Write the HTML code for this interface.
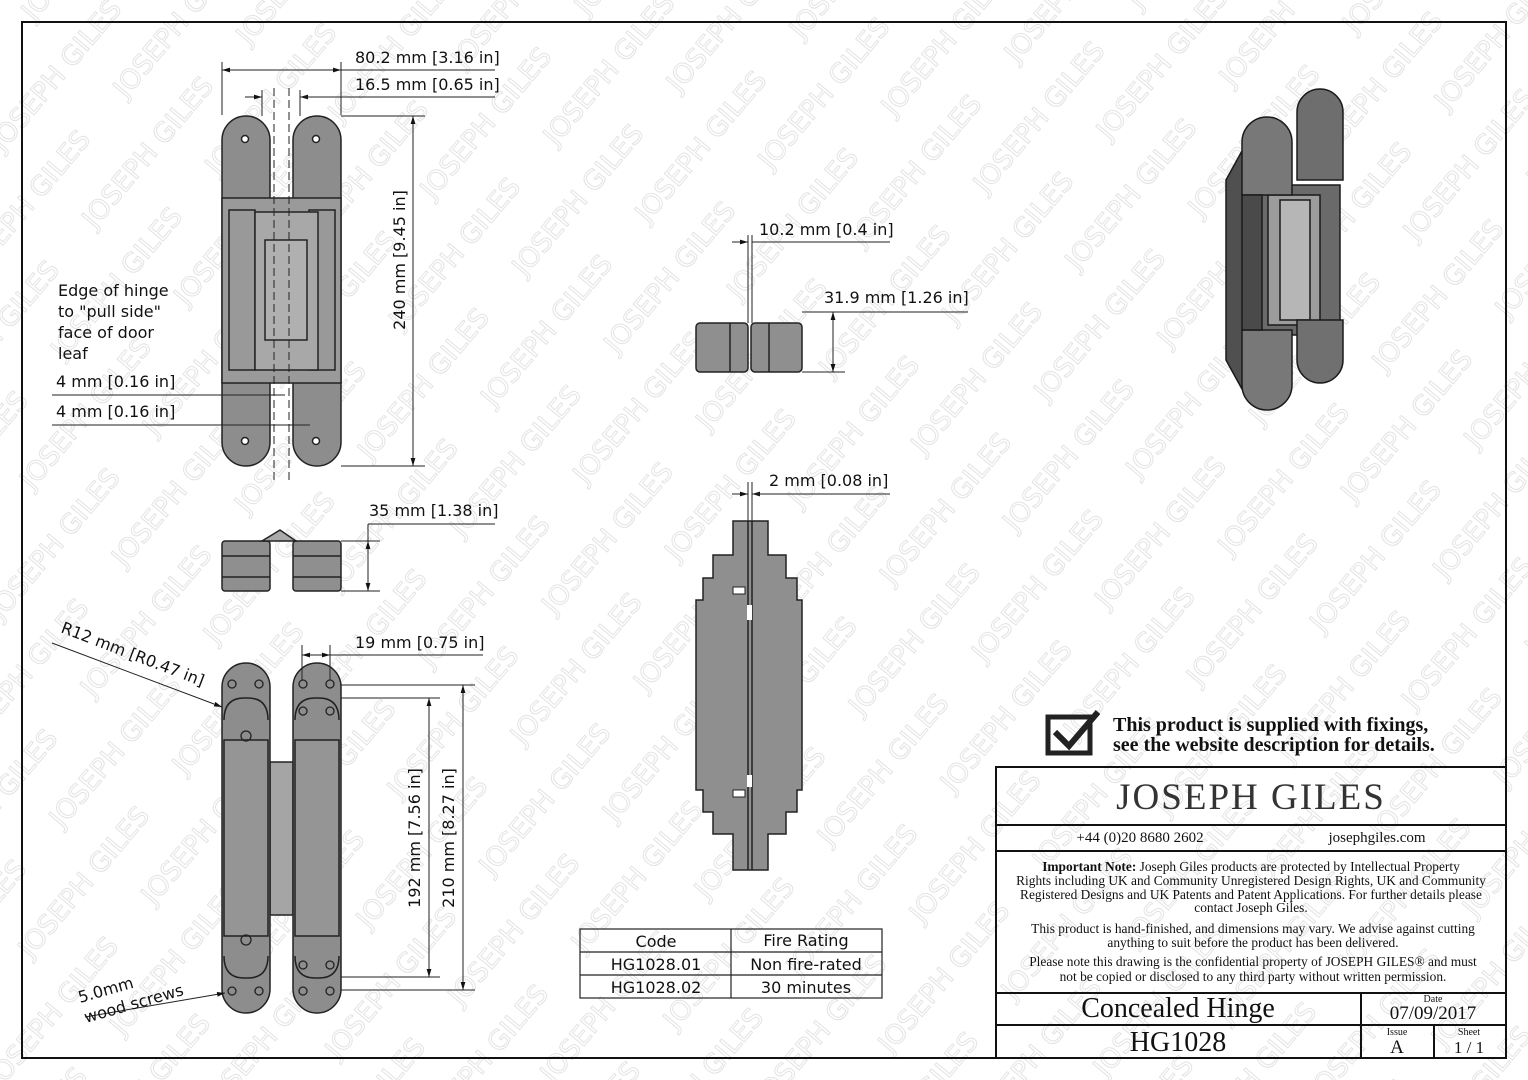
<!DOCTYPE html>
<html><head><meta charset="utf-8"><style>
html,body{margin:0;padding:0;background:#fff}
svg{display:block}
text{font-family:"DejaVu Sans","Liberation Sans",sans-serif;fill:#111}
.s{font-family:"Liberation Serif",serif}
text.w{fill:none;stroke:#dcdcdc;stroke-width:0.8px;font-size:27px}
</style></head><body>
<svg width="1528" height="1080" viewBox="0 0 1528 1080" xmlns="http://www.w3.org/2000/svg">
<defs>
<pattern id="wm" width="240" height="120" patternUnits="userSpaceOnUse" patternTransform="rotate(-50)">
<text class="w" x="5" y="40">JOSEPH GILES</text>
<text class="w" x="125" y="100">JOSEPH GILES</text>
<text class="w" x="-115" y="100">JOSEPH GILES</text>
</pattern>
<marker id="a" viewBox="0 0 10 10" refX="10" refY="5" markerWidth="8" markerHeight="8" orient="auto-start-reverse"><path d="M0,2 L10,5 L0,8 z" fill="#111"/></marker>
</defs>
<rect width="1528" height="1080" fill="#fff"/>
<rect width="1528" height="1080" fill="url(#wm)"/>
<rect x="22" y="22" width="1484" height="1036" fill="none" stroke="#111" stroke-width="2"/>

<g stroke="#222" stroke-width="1.5" fill="#8d8d8d">
<path d="M222,140 a24,24 0 0 1 48,0 V442 a24,24 0 0 1 -48,0 z"/>
<path d="M293,140 a24,24 0 0 1 48,0 V442 a24,24 0 0 1 -48,0 z"/>
<rect x="222" y="198" width="119" height="185" fill="#9a9a9a"/>
<rect x="229" y="210" width="26" height="160" fill="#999"/>
<rect x="309" y="210" width="26" height="160" fill="#999"/>
<rect x="255" y="212" width="63" height="158" fill="#a8a8a8"/>
<rect x="265" y="240" width="42" height="100" fill="#b0b0b0"/>
<circle cx="245" cy="139" r="3.5" fill="#fff"/><circle cx="316" cy="139" r="3.5" fill="#fff"/>
<circle cx="245" cy="441" r="3.5" fill="#fff"/><circle cx="316" cy="441" r="3.5" fill="#fff"/>
</g>
<g stroke="#222" stroke-width="1" stroke-dasharray="8,4" fill="none">
<line x1="274" y1="88" x2="274" y2="482"/><line x1="289" y1="88" x2="289" y2="482"/>
</g>
<g stroke="#222" stroke-width="1" fill="none">
<line x1="222" y1="62" x2="222" y2="115"/><line x1="341" y1="62" x2="341" y2="115"/>
<line x1="222" y1="70" x2="341" y2="70" marker-start="url(#a)" marker-end="url(#a)"/>
<line x1="341" y1="70" x2="495" y2="70"/>
<line x1="262" y1="90" x2="262" y2="116"/><line x1="300" y1="90" x2="300" y2="116"/>
<line x1="245" y1="97" x2="262" y2="97" marker-end="url(#a)"/><line x1="318" y1="97" x2="300" y2="97" marker-end="url(#a)"/>
<line x1="300" y1="97" x2="495" y2="97"/>
<line x1="341" y1="116" x2="425" y2="116"/><line x1="341" y1="466" x2="425" y2="466"/>
<line x1="413" y1="116" x2="413" y2="466" marker-start="url(#a)" marker-end="url(#a)"/>
<line x1="52" y1="395" x2="285" y2="395"/>
<line x1="52" y1="425" x2="310" y2="425"/>
</g>
<text x="355" y="63" font-size="16">80.2 mm [3.16 in]</text>
<text x="355" y="90" font-size="16">16.5 mm [0.65 in]</text>
<text transform="translate(405,260) rotate(-90)" font-size="16" text-anchor="middle">240 mm [9.45 in]</text>
<text x="58" y="296" font-size="16">Edge of hinge</text>
<text x="58" y="317" font-size="16">to "pull side"</text>
<text x="58" y="338" font-size="16">face of door</text>
<text x="58" y="359" font-size="16">leaf</text>
<text x="56" y="387" font-size="16">4 mm [0.16 in]</text>
<text x="56" y="417" font-size="16">4 mm [0.16 in]</text>

<g stroke="#222" stroke-width="1.5" fill="#8f8f8f">
<rect x="222" y="541" width="48" height="50" rx="3"/>
<rect x="293" y="541" width="48" height="50" rx="3"/>
<path d="M262,541 L280,530 L296,541 z" fill="#aaa"/>
<line x1="222" y1="556" x2="270" y2="556"/><line x1="293" y1="556" x2="341" y2="556"/>
<line x1="222" y1="577" x2="270" y2="577"/><line x1="293" y1="577" x2="341" y2="577"/>
</g>
<g stroke="#222" stroke-width="1" fill="none">
<line x1="341" y1="541" x2="380" y2="541"/><line x1="341" y1="591" x2="380" y2="591"/>
<line x1="368" y1="524" x2="495" y2="524"/>
<line x1="368" y1="524" x2="368" y2="591"/>
<line x1="368" y1="541" x2="368" y2="591" marker-start="url(#a)" marker-end="url(#a)"/>
</g>
<text x="369" y="516" font-size="16">35 mm [1.38 in]</text>

<g stroke="#222" stroke-width="1.5" fill="#8d8d8d">
<rect x="270" y="762" width="23" height="153" fill="#a5a5a5"/>
<path d="M222,687 a24,24 0 0 1 48,0 V989 a24,24 0 0 1 -48,0 z"/>
<path d="M293,687 a24,24 0 0 1 48,0 V989 a24,24 0 0 1 -48,0 z"/>
<rect x="224" y="740" width="44" height="196" fill="#959595"/>
<rect x="295" y="740" width="44" height="196" fill="#959595"/>
<path d="M224,720 q0,-22 20,-22 h4 q20,0 20,22" fill="none"/>
<path d="M295,720 q0,-22 20,-22 h4 q20,0 20,22" fill="none"/>
<path d="M224,956 q0,22 20,22 h4 q20,0 20,-22" fill="none"/>
<path d="M295,956 q0,22 20,22 h4 q20,0 20,-22" fill="none"/>
</g>
<g fill="none" stroke="#222" stroke-width="1.3">
<circle cx="232" cy="684" r="4"/><circle cx="259" cy="684" r="4"/><circle cx="303" cy="684" r="4"/><circle cx="330" cy="684" r="4"/>
<circle cx="303" cy="711" r="4"/><circle cx="330" cy="711" r="4"/><circle cx="246" cy="736" r="5"/>
<circle cx="246" cy="940" r="5"/><circle cx="303" cy="965" r="4"/><circle cx="330" cy="965" r="4"/>
<circle cx="232" cy="991" r="4"/><circle cx="259" cy="991" r="4"/><circle cx="303" cy="991" r="4"/><circle cx="330" cy="991" r="4"/>
</g>
<g stroke="#222" stroke-width="1" fill="none">
<line x1="302" y1="645" x2="302" y2="680"/><line x1="330" y1="645" x2="330" y2="680"/>
<line x1="302" y1="655" x2="330" y2="655" marker-start="url(#a)" marker-end="url(#a)"/>
<line x1="330" y1="655" x2="483" y2="655"/>
<line x1="341" y1="685" x2="475" y2="685"/><line x1="341" y1="698" x2="440" y2="698"/>
<line x1="341" y1="977" x2="440" y2="977"/><line x1="341" y1="990" x2="475" y2="990"/>
<line x1="429" y1="698" x2="429" y2="977" marker-start="url(#a)" marker-end="url(#a)"/>
<line x1="463" y1="685" x2="463" y2="990" marker-start="url(#a)" marker-end="url(#a)"/>
<line x1="52" y1="643" x2="222" y2="707" marker-end="url(#a)"/>
<line x1="85" y1="1017" x2="225" y2="993" marker-end="url(#a)"/>
</g>
<text x="355" y="648" font-size="16">19 mm [0.75 in]</text>
<text transform="translate(420,838) rotate(-90)" font-size="16" text-anchor="middle">192 mm [7.56 in]</text>
<text transform="translate(454,838) rotate(-90)" font-size="16" text-anchor="middle">210 mm [8.27 in]</text>
<text transform="translate(60,632) rotate(21)" font-size="16">R12 mm [R0.47 in]</text>
<text transform="translate(80,1003) rotate(-16)" font-size="16">5.0mm</text>
<text transform="translate(86,1023) rotate(-16)" font-size="16">wood screws</text>

<g stroke="#222" stroke-width="1.5" fill="#8f8f8f">
<rect x="696" y="323" width="52" height="49" rx="4"/>
<rect x="751" y="323" width="51" height="49" rx="4"/>
<line x1="730" y1="323" x2="730" y2="372"/><line x1="769" y1="323" x2="769" y2="372"/>
</g>
<g stroke="#222" stroke-width="1" fill="none">
<line x1="748" y1="235" x2="748" y2="323"/><line x1="752" y1="235" x2="752" y2="323"/>
<line x1="732" y1="242" x2="748" y2="242" marker-end="url(#a)"/>
<line x1="752" y1="242" x2="890" y2="242"/>
<line x1="802" y1="312" x2="968" y2="312"/><line x1="802" y1="372" x2="845" y2="372"/>
<line x1="833" y1="312" x2="833" y2="372" marker-start="url(#a)" marker-end="url(#a)"/>
</g>
<text x="759" y="235" font-size="16">10.2 mm [0.4 in]</text>
<text x="824" y="303" font-size="16">31.9 mm [1.26 in]</text>

<path d="M733,521 H768 V555 H786 V578 H797 V600 H802 V790 H797 V812 H786 V834 H768 V870 H733 V834 H713 V812 H703 V790 H696 V600 H703 V578 H713 V555 H733 Z" fill="#8f8f8f" stroke="#222" stroke-width="1.5"/>
<line x1="748" y1="521" x2="748" y2="870" stroke="#222" stroke-width="1.5"/>
<line x1="752" y1="521" x2="752" y2="870" stroke="#222" stroke-width="1.5"/>
<rect x="733" y="587" width="12" height="7" fill="#fff" stroke="#222"/>
<rect x="733" y="790" width="12" height="7" fill="#fff" stroke="#222"/>
<rect x="747" y="605" width="5" height="15" fill="#fff"/>
<rect x="747" y="775" width="5" height="12" fill="#fff"/>
<g stroke="#222" stroke-width="1" fill="none">
<line x1="748" y1="482" x2="748" y2="521"/><line x1="752" y1="482" x2="752" y2="521"/>
<line x1="732" y1="494" x2="748" y2="494" marker-end="url(#a)"/>
<line x1="768" y1="494" x2="752" y2="494" marker-end="url(#a)"/>
<line x1="752" y1="494" x2="890" y2="494"/>
</g>
<text x="769" y="486" font-size="16">2 mm [0.08 in]</text>

<g stroke="#222" stroke-width="1.2" fill="none">
<rect x="580" y="929" width="302" height="69"/>
<line x1="731" y1="929" x2="731" y2="998"/>
<line x1="580" y1="952" x2="882" y2="952"/><line x1="580" y1="975" x2="882" y2="975"/>
</g>
<text x="656" y="947" font-size="16" text-anchor="middle">Code</text>
<text x="806" y="946" font-size="16" text-anchor="middle">Fire Rating</text>
<text x="656" y="970" font-size="16" text-anchor="middle">HG1028.01</text>
<text x="806" y="970" font-size="16" text-anchor="middle">Non fire-rated</text>
<text x="656" y="993" font-size="16" text-anchor="middle">HG1028.02</text>
<text x="806" y="993" font-size="16" text-anchor="middle">30 minutes</text>

<!-- 3D view -->
<g stroke="#1a1a1a" stroke-width="1.5">
<path d="M1226,180 L1248,140 L1262,150 L1262,395 L1248,400 L1226,360 Z" fill="#505050"/>
<rect x="1258" y="185" width="82" height="150" fill="#6a6a6a"/>
<rect x="1268" y="195" width="52" height="130" fill="#9c9c9c"/>
<rect x="1280" y="200" width="30" height="120" fill="#b6b6b6"/>
<path d="M1297,112 a23,23 0 0 1 46,0 V180 H1297 z" fill="#6e6e6e"/>
<path d="M1297,320 H1343 V360 a23,23 0 0 1 -46,0 z" fill="#707070"/>
<path d="M1242,142 a25,25 0 0 1 50,0 V195 H1242 z" fill="#787878"/>
<path d="M1242,330 H1292 V385 a25,25 0 0 1 -50,0 z" fill="#787878"/>
<rect x="1242" y="195" width="20" height="135" fill="#4a4a4a"/>
</g>

<rect x="1048" y="717" width="42" height="36" fill="none" stroke="#222" stroke-width="5"/>
<path d="M1055,732 L1069,746 L1098,712" fill="none" stroke="#222" stroke-width="6"/>
<text class="s" x="1113" y="731" font-size="20" font-weight="bold">This product is supplied with fixings,</text>
<text class="s" x="1113" y="751" font-size="20" font-weight="bold">see the website description for details.</text>

<g stroke="#111" stroke-width="2" fill="none">
<rect x="996" y="767" width="510" height="291"/>
<line x1="996" y1="825" x2="1506" y2="825"/>
<line x1="996" y1="851" x2="1506" y2="851"/>
<line x1="996" y1="993" x2="1506" y2="993"/>
<line x1="996" y1="1025" x2="1506" y2="1025"/>
<line x1="1361" y1="993" x2="1361" y2="1058"/>
<line x1="1434" y1="1025" x2="1434" y2="1058"/>
</g>
<text class="s" x="1251" y="809" font-size="37" text-anchor="middle" style="letter-spacing:2px;fill:#333">JOSEPH GILES</text>
<text class="s" x="1140" y="842" font-size="15" text-anchor="middle">+44 (0)20 8680 2602</text>
<text class="s" x="1377" y="842" font-size="15" text-anchor="middle">josephgiles.com</text>
<text class="s" x="1251" y="871" font-size="13.4" text-anchor="middle"><tspan font-weight="bold">Important Note:</tspan> Joseph Giles products are protected by   Intellectual Property</text>
<text class="s" x="1251" y="885" font-size="13.4" text-anchor="middle">Rights including UK and Community Unregistered Design Rights, UK and Community</text>
<text class="s" x="1251" y="899" font-size="13.4" text-anchor="middle">Registered Designs and UK Patents and Patent Applications.  For further details please</text>
<text class="s" x="1251" y="912" font-size="13.4" text-anchor="middle">contact Joseph Giles.</text>
<text class="s" x="1253" y="933" font-size="13.4" text-anchor="middle">This product is hand-finished, and dimensions may vary. We advise against cutting</text>
<text class="s" x="1253" y="947" font-size="13.4" text-anchor="middle">anything to suit before the product has been delivered.</text>
<text class="s" x="1253" y="966" font-size="13.4" text-anchor="middle">Please note this drawing is the confidential property of JOSEPH GILES® and must</text>
<text class="s" x="1253" y="981" font-size="13.4" text-anchor="middle">not be copied or disclosed to any third party without written permission.</text>
<text class="s" x="1178" y="1017" font-size="28" text-anchor="middle">Concealed Hinge</text>
<text class="s" x="1178" y="1051" font-size="28" text-anchor="middle">HG1028</text>
<text class="s" x="1433" y="1002" font-size="10" text-anchor="middle">Date</text>
<text class="s" x="1433" y="1019" font-size="19" text-anchor="middle">07/09/2017</text>
<text class="s" x="1397" y="1035" font-size="10" text-anchor="middle">Issue</text>
<text class="s" x="1397" y="1053" font-size="19" text-anchor="middle">A</text>
<text class="s" x="1469" y="1035" font-size="10" text-anchor="middle">Sheet</text>
<text class="s" x="1469" y="1053" font-size="17" text-anchor="middle">1 / 1</text>
</svg>
</body></html>
